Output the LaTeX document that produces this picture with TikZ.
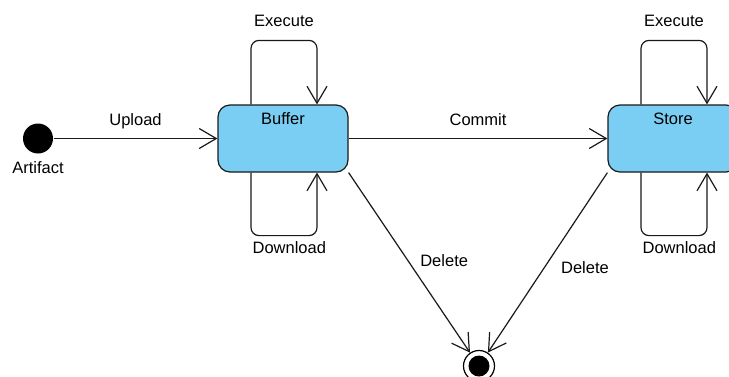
\documentclass[tikz,border=0pt]{standalone}
\usepackage{fontspec}
\setmainfont{Liberation Sans}
\usetikzlibrary{arrows.meta}
\definecolor{stateblue}{RGB}{122,206,243}

\begin{document}
\begin{tikzpicture}[x=1pt, y=-1pt, line width=1.2pt, font=\fontsize{16.5}{19}\selectfont,
    >={Straight Barb[length=17pt,width=20pt]}]
    \tikzstyle{state_style} = [rectangle, rounded corners=12pt, draw=black!90, fill=stateblue, minimum width=130pt, minimum height=67pt, inner sep=0pt]
    \tikzstyle{start_style} = [circle, fill=black, minimum size=30pt, inner sep=0pt]
    \tikzstyle{final_style} = [circle, draw=black, minimum size=31pt, inner sep=0pt, path picture={\fill[black] (path picture bounding box.center) circle (10.5pt);}]
    \tikzstyle{edge_style} = [draw=black!90, ->]
    \tikzstyle{loop_style} = [draw=black!90, ->, rounded corners=8pt]
    \tikzstyle{label_style} = [anchor=base, inner sep=0pt]

    \clip (0,0) rectangle (729,376);

    \node[start_style] (init) at (38,138.5) {};
    \node[label_style, yshift=-34.5pt] at (init) {Artifact};
    \node[state_style, label={[label_style, yshift=-20pt]north:Buffer}] (buf) at (283,138.5) {};
    \node[state_style, label={[label_style, yshift=-20pt]north:Store}] (sto) at (673,138.5) {};
    \node[final_style] (fin) at (479,366) {};

    \draw[edge_style] (init) -- (buf) node[label_style, midway, yshift=13pt] {Upload};
    \draw[edge_style] (buf) -- (sto) node[label_style, midway, yshift=13pt] {Commit};
    \draw[edge_style] (buf.south east) -- (fin) node[label_style, anchor=base west, pos=0.52, xshift=8pt] {Delete};
    \draw[edge_style] (sto.south west) -- (fin) node[label_style, anchor=base west, pos=0.56, xshift=20pt] {Delete};

    \draw[loop_style] ([xshift=-32pt]buf.north) -- ++(0,-64) -- ++(66,0) node[label_style, midway, yshift=14pt] {Execute} -- ([xshift=34pt]buf.north);
    \draw[loop_style] ([xshift=-32pt]buf.south) -- ++(0,63) -- ++(66,0) node[label_style, pos=0, anchor=base west, yshift=-18pt, xshift=1pt] {Download} -- ([xshift=34pt]buf.south);
    \draw[loop_style] ([xshift=-32pt]sto.north) -- ++(0,-64) -- ++(66,0) node[label_style, midway, yshift=14pt] {Execute} -- ([xshift=34pt]sto.north);
    \draw[loop_style] ([xshift=-32pt]sto.south) -- ++(0,63) -- ++(66,0) node[label_style, pos=0, anchor=base west, yshift=-18pt, xshift=1pt] {Download} -- ([xshift=34pt]sto.south);
\end{tikzpicture}
\end{document}
